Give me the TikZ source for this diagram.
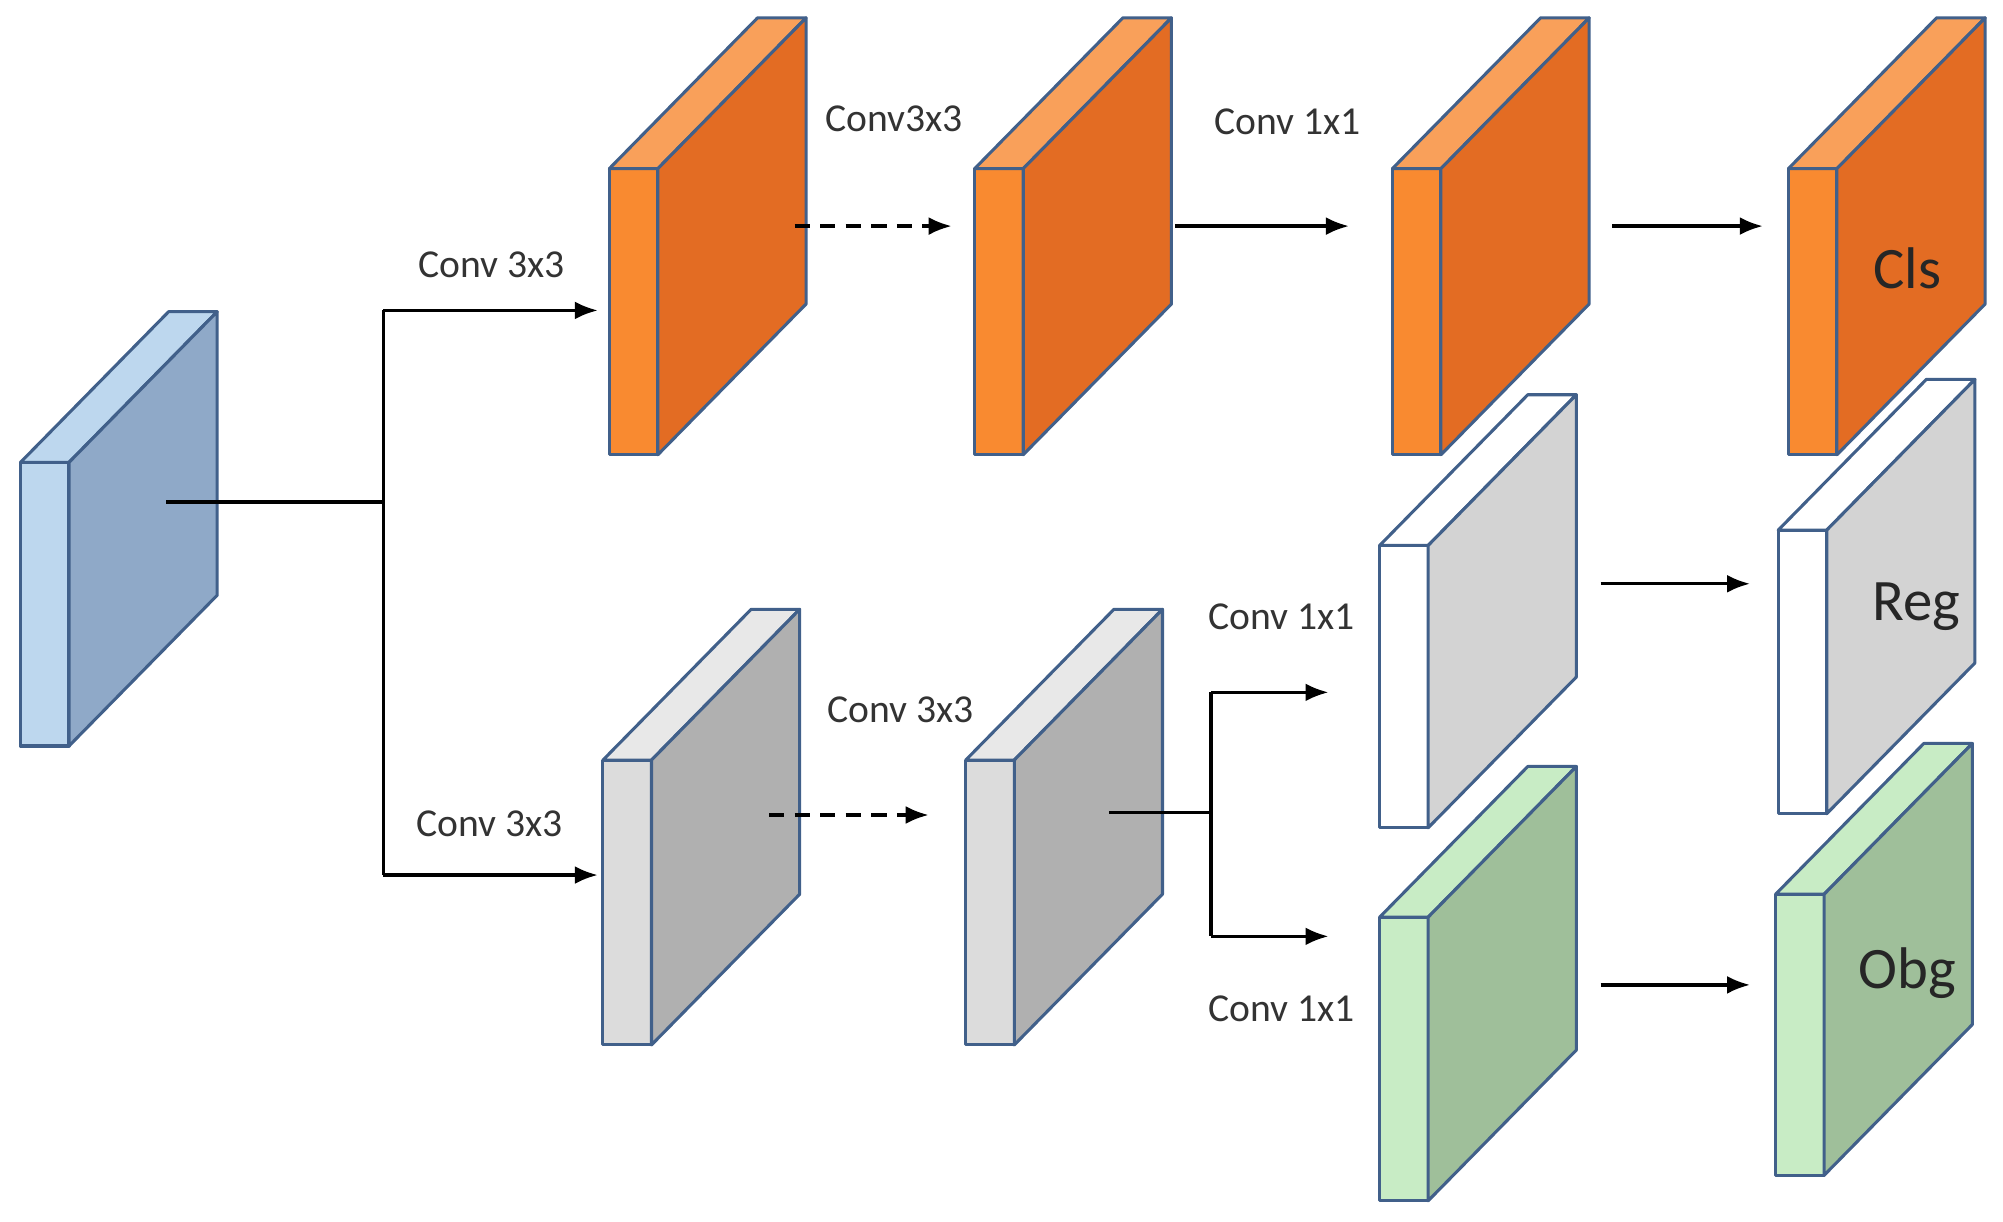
\documentclass[tikz,border=0pt]{standalone}
\usepackage{fontspec}
\setmainfont{Carlito}
\usetikzlibrary{arrows.meta}
\definecolor{edge}{HTML}{41608A}
\definecolor{bF}{HTML}{BDD7EE}\definecolor{bT}{HTML}{BDD7EE}\definecolor{bS}{HTML}{8FA9C8}
\definecolor{oF}{HTML}{F98A30}\definecolor{oT}{HTML}{F9A05A}\definecolor{oS}{HTML}{E36C23}
\definecolor{gF}{HTML}{DCDCDC}\definecolor{gT}{HTML}{E8E8E8}\definecolor{gS}{HTML}{B0B0B0}
\definecolor{wF}{HTML}{FFFFFF}\definecolor{wT}{HTML}{FFFFFF}\definecolor{wS}{HTML}{D3D3D3}
\definecolor{nF}{HTML}{C8ECC5}\definecolor{nT}{HTML}{C8ECC5}\definecolor{nS}{HTML}{9FBF9A}
\newcommand\myslab[5]{% name, x0, top, bot, color prefix
  \filldraw[slab,fill=#5F] (#2,#3) rectangle (#2+38,#4);
  \filldraw[slab,fill=#5T] (#2,#3) -- (#2+116,#3-118) -- (#2+154,#3-118) -- (#2+38,#3) -- cycle;
  \filldraw[slab,fill=#5S] (#2+38,#3) -- (#2+154,#3-118) -- (#2+154,#4-118) -- (#2+38,#4) -- cycle;
  \coordinate (#1) at (#2,#3);
}
\begin{document}
\begin{tikzpicture}[x=0.5pt,y=-0.5pt,
  slab/.style={draw=edge,line width=1.2pt,line join=round},
  arr/.style={line width=1.3pt,-{Latex[length=9pt,width=7pt]}},
  ln/.style={line width=1.3pt},
  lab/.style={font=\fontsize{15.5}{18}\selectfont,text=black!80},
  big/.style={font=\fontsize{23}{26}\selectfont,text=black!85}]
\useasboundingbox (0,0) rectangle (1568,956);
\myslab{blue}{16}{362}{584}{b}
\myslab{o1}{477}{132}{356}{o}
\myslab{o2}{763}{132}{356}{o}
\myslab{o3}{1090}{132}{356}{o}
\myslab{o4}{1400}{132}{356}{o}
\myslab{g1}{472}{595}{818}{g}
\myslab{g2}{756}{595}{818}{g}
\myslab{w1}{1080}{427}{648}{w}
\myslab{w2}{1392}{415}{637}{w}
\myslab{n1}{1080}{718}{940}{n}
\myslab{n2}{1390}{700}{920}{n}
\node[big] (cls) at (1493,210) {Cls};
\node[big] (reg) at (1500,475) {Reg};
\node[big] (obg) at (1493,762) {Obg};
% connectors
\coordinate (s0) at (130,393); \coordinate (j0) at (300,393);
\coordinate (j0t) at (300,243); \coordinate (j0b) at (300,685);
\coordinate (e1) at (468,243); \coordinate (e2) at (468,685);
\draw[ln] (s0) -- (j0);
\draw[ln] (j0t) -- (j0b);
\draw[arr] (j0t) -- (e1);
\draw[arr] (j0b) -- (e2);
\node[lab] (l1) at (385,207) {Conv 3x3};
\node[lab] (l2) at (383,645) {Conv 3x3};
\coordinate (a1) at (622,177); \coordinate (b1) at (745,177);
\draw[arr,dashed,dash pattern=on 6pt off 4pt] (a1) -- (b1);
\node[lab] (l3) at (700,93) {Conv3x3};
\coordinate (a2) at (920,177); \coordinate (b2) at (1056,177);
\draw[arr] (a2) -- (b2);
\node[lab] (l4) at (1008,95) {Conv 1x1};
\coordinate (a3) at (1262,177); \coordinate (b3) at (1380,177);
\draw[arr] (a3) -- (b3);
\coordinate (a4) at (602,638); \coordinate (b4) at (727,638);
\draw[arr,dashed,dash pattern=on 6pt off 4pt] (a4) -- (b4);
\node[lab] (l5) at (705,556) {Conv 3x3};
\coordinate (s5) at (868,636); \coordinate (j5) at (948,636);
\coordinate (j5t) at (948,542); \coordinate (j5b) at (948,733);
\coordinate (e5) at (1040,542); \coordinate (e6) at (1040,733);
\draw[ln] (s5) -- (j5);
\draw[ln] (j5t) -- (j5b);
\draw[arr] (j5t) -- (e5);
\draw[arr] (j5b) -- (e6);
\node[lab] (l6) at (1003,483) {Conv 1x1};
\node[lab] (l7) at (1003,790) {Conv 1x1};
\coordinate (a7) at (1253,457); \coordinate (b7) at (1370,457);
\draw[arr] (a7) -- (b7);
\coordinate (a8) at (1253,771); \coordinate (b8) at (1370,771);
\draw[arr] (a8) -- (b8);
\end{tikzpicture}
\end{document}
